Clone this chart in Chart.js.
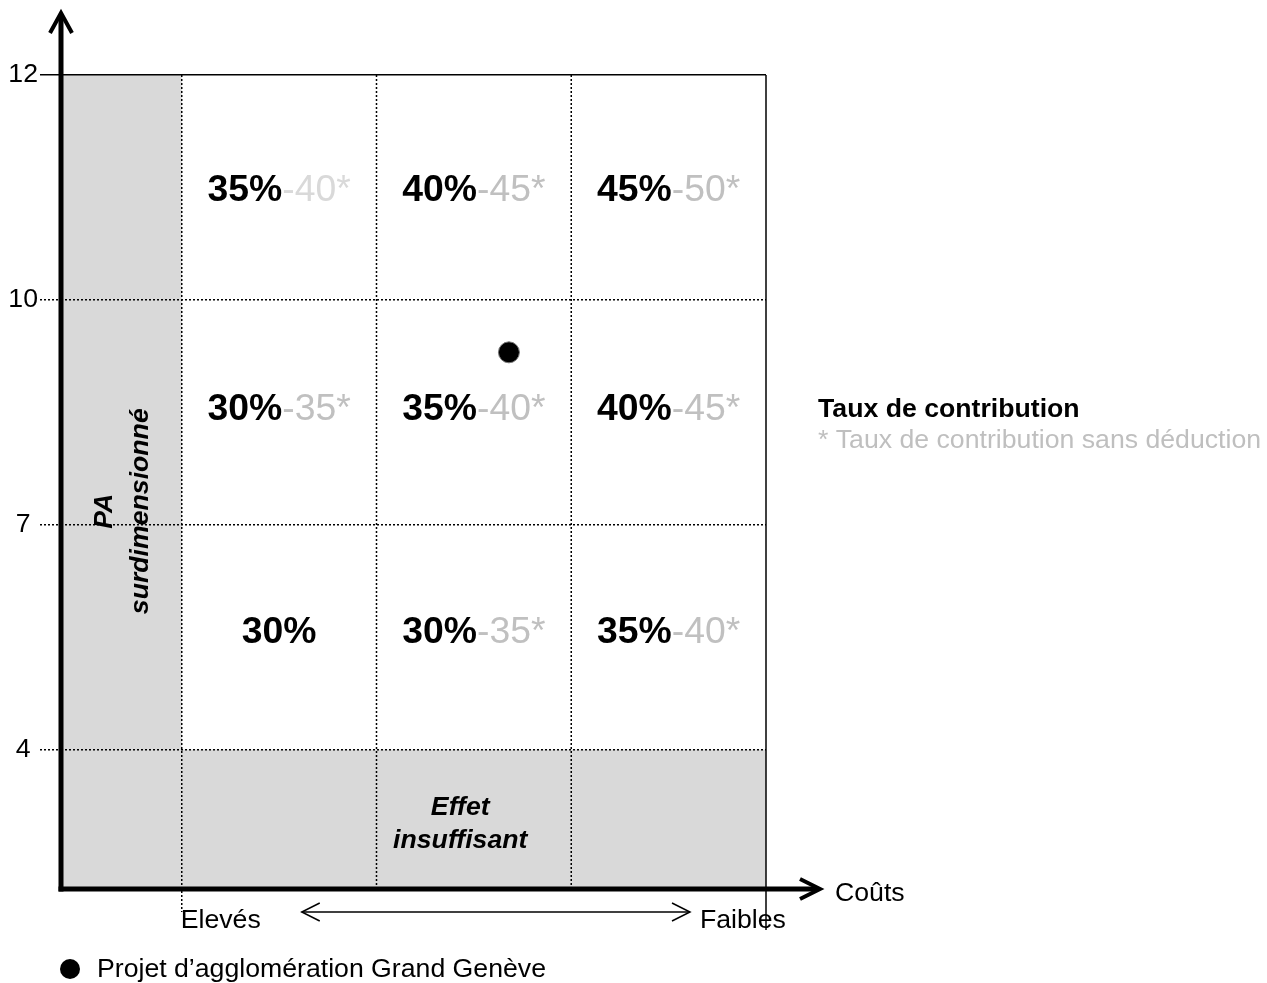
<!DOCTYPE html>
<html><head><meta charset="utf-8">
<script src="https://cdn.jsdelivr.net/npm/chart.js@4.4.1/dist/chart.umd.min.js"></script>
<style>html,body{margin:0;padding:0;background:#fff;overflow:hidden}canvas{display:block}</style>
</head><body>
<canvas id="c" width="1267" height="983" style="width:1267px;height:983px"></canvas>
<script>
// ---- data ----
const effectTicks = [4, 7, 10, 12];                 // y-axis tick labels (effect score)
const costEndLabels = ['Elevés', 'Faibles'];        // x-axis direction labels
const xAxisTitle = 'Coûts';
// contribution rates, rows = effect bands from bottom (4-7, 7-10, 10-12), columns = cost from high to low
const rates = [
  [30, 30, 35],
  [30, 35, 40],
  [35, 40, 45]
];
const ratesNoDeduction = [
  [null, 35, 40],
  [35, 40, 45],
  [40, 45, 50]
];
const projectName = 'Projet d’agglomération Grand Genève';
const projectCost = [1.68];     // position along cost columns
const projectEffect = [9.3];    // effect score
const legendTitle = 'Taux de contribution';
const legendNote = '* Taux de contribution sans déduction';
const zoneLeft = ['PA', 'surdimensionné'];
const zoneBottom = ['Effet', 'insuffisant'];

// ---- helpers ----
const F = '"Liberation Sans", Arial, Helvetica, sans-serif';
function effectToBand(v) {
  for (let i = 0; i < effectTicks.length - 1; i++) {
    if (v <= effectTicks[i + 1]) return (i + 1) + (v - effectTicks[i]) / (effectTicks[i + 1] - effectTicks[i]);
  }
  return effectTicks.length;
}
const solidTop = ctx => (ctx.tick && ctx.tick.value === effectTicks.length) ? [] : [2, 2];

const bgPlugin = {
  id: 'bgShade',
  beforeDraw(chart) {
    const { ctx, scales: { x, y } } = chart;
    const xl = x.getPixelForValue(x.min), x0 = x.getPixelForValue(0), xr = x.getPixelForValue(3);
    const yb = y.getPixelForValue(y.min), y1 = y.getPixelForValue(1), yt = y.getPixelForValue(effectTicks.length);
    ctx.save();
    ctx.fillStyle = '#d9d9d9';
    ctx.fillRect(xl, yt, x0 - xl, yb - yt);
    ctx.fillRect(xl, y1, xr - xl, yb - y1);
    ctx.restore();
  }
};

function line(ctx, x1, y1, x2, y2) { ctx.beginPath(); ctx.moveTo(x1, y1); ctx.lineTo(x2, y2); ctx.stroke(); }

const overlayPlugin = {
  id: 'overlay',
  afterDraw(chart) {
    const { ctx, scales: { x, y } } = chart;
    const xl = x.getPixelForValue(x.min), xr = x.getPixelForValue(3);
    const yb = y.getPixelForValue(y.min), yt = y.getPixelForValue(effectTicks.length);
    ctx.save();
    ctx.strokeStyle = '#000';
    // vertical column separators
    ctx.lineWidth = 1.5;
    ctx.setLineDash([2, 2]);
    for (let c = 0; c < 3; c++) {
      const px = x.getPixelForValue(c);
      line(ctx, px, yt, px, c === 0 ? yb + 23 : yb);
    }
    ctx.setLineDash([]);
    line(ctx, xr, yt, xr, yb + 41);

    // cell labels
    const rowShift = [6, 8, 14];
    for (let r = 0; r < rates.length; r++) {
      for (let c = 0; c < rates[r].length; c++) {
        const cx = x.getPixelForValue(c + 0.5);
        const by = y.getPixelForValue(r + 1.5) + rowShift[r];
        const a = rates[r][c] + '%';
        const b = ratesNoDeduction[r][c] != null ? '-' + ratesNoDeduction[r][c] + '*' : '';
        ctx.font = 'bold 37.33px ' + F;
        const wa = ctx.measureText(a).width;
        ctx.font = '37.33px ' + F;
        const wb = b ? ctx.measureText(b).width : 0;
        const sx = cx - (wa + wb) / 2;
        ctx.textAlign = 'left'; ctx.textBaseline = 'alphabetic';
        ctx.font = 'bold 37.33px ' + F; ctx.fillStyle = '#000';
        ctx.fillText(a, sx, by);
        if (b) {
          ctx.font = '37.33px ' + F;
          ctx.fillStyle = (r === 2 && c === 0) ? '#d9d9d9' : '#c0c0c0';
          ctx.fillText(b, sx + wa, by);
        }
      }
    }

    // zone labels
    ctx.fillStyle = '#000';
    ctx.font = 'italic bold 26.67px ' + F;
    ctx.textAlign = 'center';
    ctx.save();
    ctx.translate(x.getPixelForValue(-0.31), y.getPixelForValue(2.06));
    ctx.rotate(-Math.PI / 2);
    ctx.fillText(zoneLeft[0], 0, -9.5);
    ctx.fillText(zoneLeft[1], 0, 26.5);
    ctx.restore();
    const ez = x.getPixelForValue(1.43), ezy = (y.getPixelForValue(1) + yb) / 2;
    ctx.fillText(zoneBottom[0], ez, ezy - 4);
    ctx.fillText(zoneBottom[1], ez, ezy + 29);

    // axes
    ctx.lineWidth = 5;
    ctx.lineCap = 'butt';
    line(ctx, xl, yb + 2.5, xl, yt - 60);
    line(ctx, xl - 2.5, yb, xr + 52, yb);
    ctx.lineWidth = 4;
    ctx.lineJoin = 'miter';
    ctx.beginPath(); ctx.moveTo(xl - 11, yt - 42); ctx.lineTo(xl, yt - 62); ctx.lineTo(xl + 11, yt - 42); ctx.stroke();
    ctx.beginPath(); ctx.moveTo(xr + 34, yb - 10); ctx.lineTo(xr + 54, yb); ctx.lineTo(xr + 34, yb + 10); ctx.stroke();

    // axis texts
    ctx.font = '26.67px ' + F;
    ctx.textAlign = 'left';
    ctx.fillText(xAxisTitle, xr + 69, yb + 12);
    const x0 = x.getPixelForValue(0);
    ctx.fillText(costEndLabels[0], x0 - 1, yb + 39);
    ctx.fillText(costEndLabels[1], xr - 66, yb + 39);
    // double arrow
    ctx.lineWidth = 1.5;
    const ay = yb + 23, ax1 = x0 + 120, ax2 = xr - 76;
    line(ctx, ax1, ay, ax2, ay);
    ctx.beginPath(); ctx.moveTo(ax1 + 18, ay - 9); ctx.lineTo(ax1, ay); ctx.lineTo(ax1 + 18, ay + 9); ctx.stroke();
    ctx.beginPath(); ctx.moveTo(ax2 - 18, ay - 9); ctx.lineTo(ax2, ay); ctx.lineTo(ax2 - 18, ay + 9); ctx.stroke();

    // right legend
    ctx.font = 'bold 26.67px ' + F;
    ctx.fillStyle = '#000';
    ctx.fillText(legendTitle, xr + 52, 417);
    ctx.font = '26.67px ' + F;
    ctx.fillStyle = '#bfbfbf';
    ctx.fillText(legendNote, xr + 52, 448);

    // bottom legend
    ctx.fillStyle = '#000';
    ctx.beginPath(); ctx.arc(xl + 9, yb + 80, 10, 0, Math.PI * 2); ctx.fill();
    ctx.fillText(projectName, xl + 36, yb + 88);
    ctx.restore();
  }
};

new Chart(document.getElementById('c'), {
  type: 'scatter',
  data: {
    datasets: [{
      label: projectName,
      data: projectCost.map((c, i) => ({ x: c, y: effectToBand(projectEffect[i]) })),
      pointRadius: 10.5,
      pointBackgroundColor: '#000',
      pointBorderColor: '#777',
      pointBorderWidth: 1,
      clip: false
    }]
  },
  options: {
    responsive: false,
    animation: false,
    events: [],
    devicePixelRatio: 1,
    layout: { padding: { left: 0, top: 75, right: 501, bottom: 94 } },
    plugins: { legend: { display: false }, tooltip: { enabled: false } },
    scales: {
      x: { type: 'linear', display: false, min: -0.62, max: 3 },
      y: {
        type: 'linear', position: 'left', min: 0.38, max: effectTicks.length,
        afterBuildTicks: s => { s.ticks = effectTicks.map((v, i) => ({ value: i + 1 })); },
        afterFit: s => { s.width = 61; },
        ticks: {
          autoSkip: false,
          callback: (v, i) => String(effectTicks[i]),
          font: { family: F, size: 26.67 },
          color: '#000',
          crossAlign: 'center',
          padding: 2
        },
        grid: {
          color: '#000', lineWidth: 1.5, tickLength: 21, tickColor: '#000', tickWidth: 1.5,
          tickBorderDash: solidTop
        },
        border: { display: false, dash: solidTop }
      }
    }
  },
  plugins: [bgPlugin, overlayPlugin]
});
</script>
</body></html>
